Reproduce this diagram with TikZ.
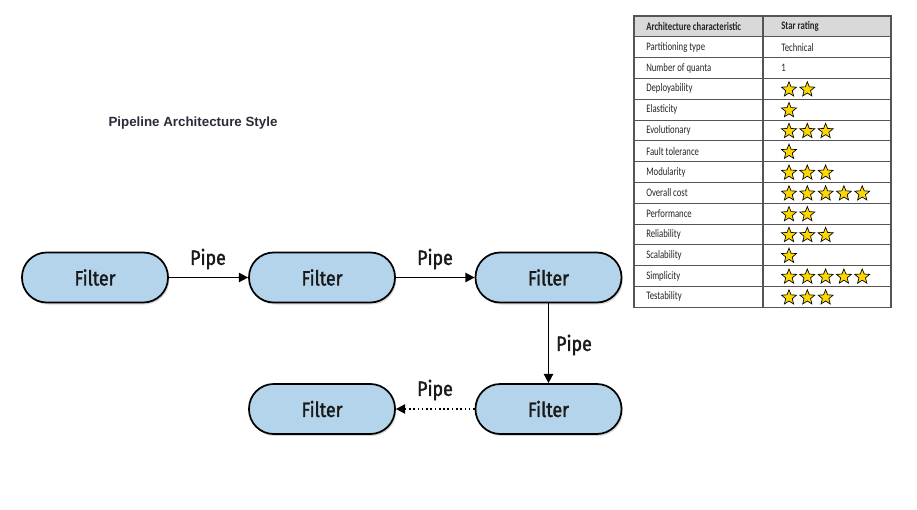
\documentclass[tikz,border=0pt]{standalone}
\usepackage{fontspec}
\setmainfont{Liberation Sans}
\newfontfamily\filterfont[FakeStretch=0.86,FakeBold=1.6]{Fira Sans}
\newfontfamily\tabfont[FakeStretch=0.76]{Carlito}
\usetikzlibrary{shapes.geometric,shadows,arrows.meta}
\definecolor{filterblue}{HTML}{B3D4EA}
\definecolor{headgray}{HTML}{D9D9D9}
\definecolor{staryellow}{HTML}{FFD700}
\definecolor{titlecol}{HTML}{2B2B3A}
\definecolor{tabline}{HTML}{555555}
\begin{document}
\begin{tikzpicture}[x=0.75pt,y=-0.75pt,
  filterbox/.style={draw=black, line width=1.3pt, fill=filterblue, rounded corners=18.5pt,
    minimum width=109.5pt, minimum height=37.5pt, inner sep=0pt,
    font=\filterfont\fontsize{15.5}{18}\selectfont, text=black!90,
    drop shadow={shadow xshift=1pt, shadow yshift=-1.5pt, opacity=0.3}},
  pipearrow/.style={-{Triangle[length=7pt,width=7pt]}, line width=1.2pt},
  pipelabel/.style={font=\filterfont\fontsize{15.5}{18}\selectfont, inner sep=0pt, text=black!90},
  tabtext/.style={anchor=west, inner sep=0pt, font=\tabfont\fontsize{8.6}{10}\selectfont, text=black!85},
  tabhead/.style={tabtext, font=\tabfont\bfseries\fontsize{8.6}{10}\selectfont},
  starnode/.style={star, star points=5, star point ratio=2.3, fill=staryellow, draw=black,
    line width=0.5pt, minimum size=11.8pt, inner sep=0pt},
  tableline/.style={draw=tabline, line width=0.6pt}
]
\useasboundingbox (0,0) rectangle (917,510);
\fill[white] (0,0) rectangle (917,510);

% title
\node[font=\bfseries\fontsize{10}{12}\selectfont, text=titlecol, inner sep=0pt] (title) at (193,123) {Pipeline Architecture Style};

% filters
\node[filterbox] (f1) at (95,277.5) {Filter};
\node[filterbox] (f2) at (322,277.5) {Filter};
\node[filterbox] (f3) at (548.5,277.5) {Filter};
\node[filterbox] (f4) at (322,409) {Filter};
\node[filterbox] (f5) at (548.5,409) {Filter};

% pipes
\draw[pipearrow] (f1) -- (f2);
\draw[pipearrow] (f2) -- (f3);
\draw[pipearrow] (f3) -- (f5);
\draw[pipearrow, dotted] (f5) -- (f4);
\node[pipelabel] (p1) at (208,259) {Pipe};
\node[pipelabel] (p2) at (435,259) {Pipe};
\node[pipelabel] (p3) at (574,345) {Pipe};
\node[pipelabel] (p4) at (435,390) {Pipe};

% table
\fill[headgray] (634,16) rectangle (891,36.8);
\foreach \i in {1,...,13}{
  \draw[tableline] (634,{16+\i*20.8}) -- (891,{16+\i*20.8});
}
\draw[tableline, line width=0.8pt] (634,16) rectangle (891,307.2);
\draw[tableline, line width=1pt] (763,16) -- (763,307.2);

\node[tabhead] (h1) at (646,26.6) {Architecture characteristic};
\node[tabhead] (h2) at (781,26.6) {Star rating};

\foreach \lab/\val/\n [count=\i] in {
  Partitioning type/Technical/0,
  Number of quanta/1/0,
  Deployability/{}/2,
  Elasticity/{}/1,
  Evolutionary/{}/3,
  Fault tolerance/{}/1,
  Modularity/{}/3,
  Overall cost/{}/5,
  Performance/{}/2,
  Reliability/{}/3,
  Scalability/{}/1,
  Simplicity/{}/5,
  Testability/{}/3}{
  \node[tabtext] (r\i) at (646,{16+(\i+0.5)*20.8}) {\lab};
  \node[tabtext] (v\i) at (781,{16+(\i+0.5)*20.8}) {\val};
  \foreach \k in {1,...,5}{
    \ifnum\k>\n\else
      \node[starnode] (s\i-\k) at ({789+18.3*(\k-1)},{16+(\i+0.5)*20.8+0.8}) {};
    \fi
  }
}
\end{tikzpicture}
\end{document}
